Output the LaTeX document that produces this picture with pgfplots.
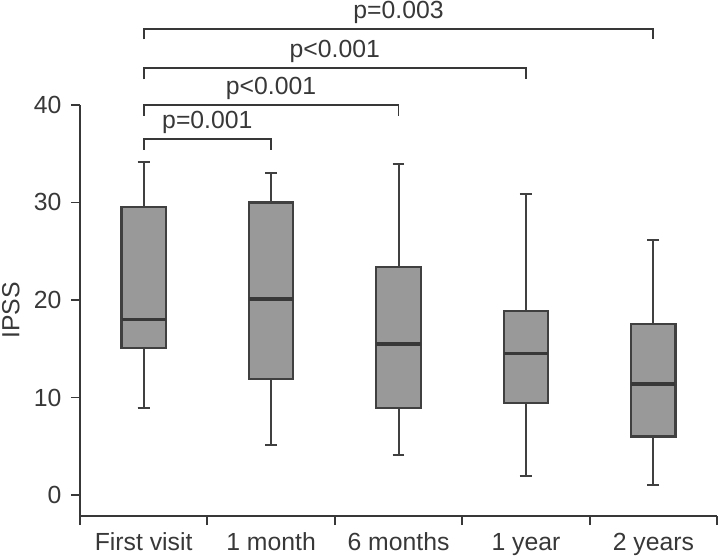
\documentclass[border=0pt]{standalone}
\usepackage{fontspec}
\setmainfont{Liberation Sans}
\usepackage{pgfplots}
\pgfplotsset{compat=1.18}
\usepgfplotslibrary{statistics}
\definecolor{ink}{HTML}{383838}
\definecolor{boxfill}{HTML}{999999}
\definecolor{boxedge}{HTML}{404040}
\begin{document}
\begin{tikzpicture}[font=\fontsize{12.4}{14}\selectfont]
\begin{axis}[
  scale only axis, width=319pt, height=205.85pt,
  xmin=-0.5, xmax=4.5, ymin=-2.15, ymax=40,
  axis lines=left,
  axis line style={-, draw=ink, line width=0.9pt},
  clip=false,
  xtick={0,1,2,3,4},
  xticklabels={First visit, 1 month, 6 months, 1 year, 2 years},
  minor xtick={-0.5,0.5,1.5,2.5,3.5,4.5},
  ytick={0,10,20,30,40},
  tick align=outside,
  major tick length=4.5pt, minor tick length=4.5pt,
  every tick/.style={draw=ink, line width=0.9pt},
  major x tick style={draw=none},
  /pgf/number format/assume math mode=true,
  ticklabel style={text=ink, font=\fontsize{12.4}{14}\selectfont, inner sep=0pt},
  xticklabel style={anchor=north, yshift=-3.8pt},
  yticklabel style={anchor=east, xshift=-4.6pt},
  ylabel={IPSS},
  ylabel style={text=ink, font=\fontsize{12.4}{14}\selectfont, inner sep=0pt,
    at={(axis description cs:-0.0948,0.5)}, anchor=base},
  boxplot/draw direction=y,
  boxplot/every median/.style={draw=ink, line width=1.8pt},
  boxplot/every box/.style={draw=boxedge, fill=boxfill, line width=1.1pt},
  boxplot/every whisker/.style={draw=boxedge, line width=1pt},
]
\addplot+[boxplot prepared={draw position=0, median=18, upper quartile=29.5, lower quartile=15.1, upper whisker=34.1, lower whisker=8.95, box extend=0.347, whisker extend=0.094}, draw=boxedge, fill=boxfill, solid, mark=none, line width=1.1pt] coordinates {};
\addplot+[boxplot prepared={draw position=1, median=20.1, upper quartile=30.0, lower quartile=11.9, upper whisker=33.0, lower whisker=5.1, box extend=0.347, whisker extend=0.094}, draw=boxedge, fill=boxfill, solid, mark=none, line width=1.1pt] coordinates {};
\addplot+[boxplot prepared={draw position=2, median=15.5, upper quartile=23.4, lower quartile=8.95, upper whisker=33.9, lower whisker=4.06, box extend=0.347, whisker extend=0.094}, draw=boxedge, fill=boxfill, solid, mark=none, line width=1.1pt] coordinates {};
\addplot+[boxplot prepared={draw position=3, median=14.5, upper quartile=18.9, lower quartile=9.45, upper whisker=30.9, lower whisker=2.0, box extend=0.347, whisker extend=0.094}, draw=boxedge, fill=boxfill, solid, mark=none, line width=1.1pt] coordinates {};
\addplot+[boxplot prepared={draw position=4, median=11.4, upper quartile=17.5, lower quartile=6.0, upper whisker=26.1, lower whisker=1.0, box extend=0.347, whisker extend=0.094}, draw=boxedge, fill=boxfill, solid, mark=none, line width=1.1pt] coordinates {};
% significance brackets
\draw[ink, line width=0.9pt] (axis cs:0,35.38) -- (axis cs:0,36.48) -- (axis cs:1,36.48) -- (axis cs:1,35.38);
\node[text=ink, anchor=base, inner sep=0pt] at (axis cs:0.5,37.58) {p=0.001};
\draw[ink, line width=0.9pt] (axis cs:0,38.86) -- (axis cs:0,39.99) -- (axis cs:2,39.99) -- (axis cs:2,38.86);
\node[text=ink, anchor=base, inner sep=0pt] at (axis cs:1,41.09) {p<0.001};
\draw[ink, line width=0.9pt] (axis cs:0,42.62) -- (axis cs:0,43.75) -- (axis cs:3,43.75) -- (axis cs:3,42.62);
\node[text=ink, anchor=base, inner sep=0pt] at (axis cs:1.5,44.85) {p<0.001};
\draw[ink, line width=0.9pt] (axis cs:0,46.71) -- (axis cs:0,47.77) -- (axis cs:4,47.77) -- (axis cs:4,46.71);
\node[text=ink, anchor=base, inner sep=0pt] at (axis cs:2,48.87) {p=0.003};
\end{axis}
\path (-40pt,-20.65pt) rectangle (319pt,258.35pt);
\end{tikzpicture}
\end{document}
